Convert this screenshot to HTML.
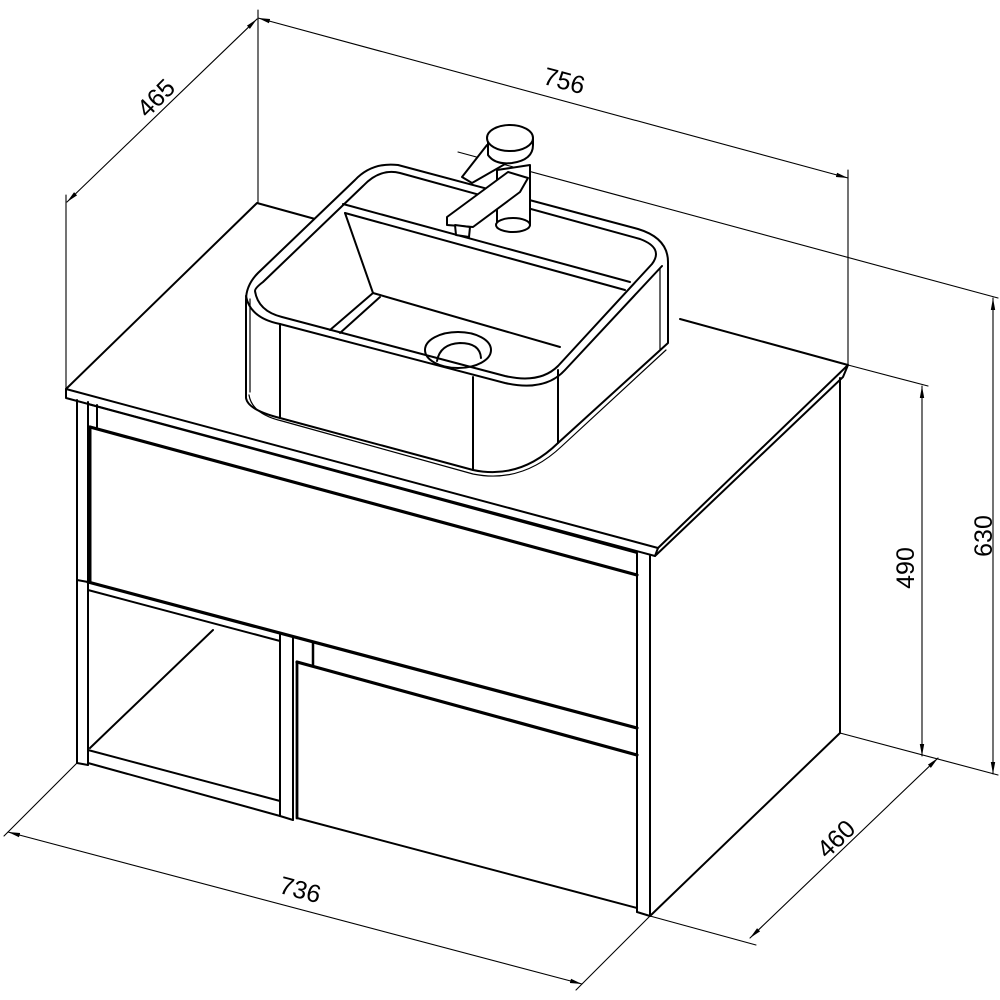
<!DOCTYPE html>
<html><head><meta charset="utf-8"><style>
html,body{margin:0;padding:0;background:#fff;}
svg{display:block;}
text{font-family:"Liberation Sans",Arial,sans-serif;font-size:25px;fill:#000;}
</style></head><body>
<svg width="1000" height="1000" viewBox="0 0 1000 1000" xmlns="http://www.w3.org/2000/svg">
<defs>
<marker id="a" viewBox="0 0 12 6" refX="12" refY="3" markerWidth="12" markerHeight="6" orient="auto-start-reverse" markerUnits="userSpaceOnUse">
<path d="M0,0.8 L12,3 L0,5.2 Z" fill="#000"/></marker>
</defs>
<g fill="none" stroke="#000" stroke-linejoin="round" stroke-linecap="round">
<!-- dimension / extension lines -->
<g stroke-width="1.1">
<line x1="258" y1="10" x2="258" y2="203"/>
<line x1="848" y1="170" x2="848" y2="365"/>
<line x1="66" y1="195" x2="66" y2="389"/>
<line x1="258" y1="18" x2="848" y2="178" marker-start="url(#a)" marker-end="url(#a)"/>
<line x1="67" y1="202" x2="257" y2="19" marker-start="url(#a)" marker-end="url(#a)"/>
<line x1="458" y1="152" x2="998" y2="298"/>
<line x1="848" y1="365" x2="928" y2="386"/>
<line x1="840" y1="733" x2="998" y2="775"/>
<line x1="922" y1="386" x2="922" y2="756" marker-start="url(#a)" marker-end="url(#a)"/>
<line x1="993" y1="298" x2="993" y2="774" marker-start="url(#a)" marker-end="url(#a)"/>
<line x1="650" y1="916" x2="756" y2="945"/>
<line x1="750" y1="938" x2="938" y2="758" marker-start="url(#a)" marker-end="url(#a)"/>
<line x1="77" y1="763" x2="4" y2="836"/>
<line x1="650" y1="916" x2="576" y2="990"/>
<line x1="8" y1="832" x2="582" y2="984" marker-start="url(#a)" marker-end="url(#a)"/>
</g>
<!-- slab -->
<g stroke-width="2">
<path d="M66,389 L257,203 L355,230"/>
<path d="M66,389 L658,548 L848,365 L680,319"/>
<path d="M66,389 L66,398 L655,556 L658,548"/>
<path d="M655,556 L843,377 L848,365"/>
<!-- side panel -->
<line x1="840" y1="378" x2="840" y2="733"/>
<line x1="650" y1="916" x2="840" y2="733"/>
<!-- left post -->
<line x1="77" y1="400" x2="77" y2="763"/>
<line x1="88" y1="402" x2="88" y2="765"/>
<line x1="77" y1="763" x2="88" y2="765"/>
<line x1="97" y1="405" x2="97" y2="427"/>
<line x1="88" y1="404" x2="637" y2="553"/>
<!-- right post -->
<line x1="637" y1="553" x2="637" y2="912"/>
<line x1="650" y1="556" x2="650" y2="916"/>
<line x1="637" y1="912" x2="650" y2="916"/>
<!-- top drawer -->
<line x1="90" y1="427" x2="637" y2="575" stroke-width="3.2"/>
<line x1="90" y1="427" x2="90" y2="582" stroke-width="3"/>
<line x1="88" y1="582" x2="637" y2="728" stroke-width="3.2"/>
<line x1="77" y1="580" x2="88" y2="582"/>
<!-- shelf -->
<line x1="88" y1="590" x2="280" y2="641"/>
<line x1="88" y1="750" x2="280" y2="801"/>
<line x1="88" y1="763" x2="280" y2="816"/>
<line x1="90" y1="748" x2="213" y2="630"/>
<!-- middle post -->
<line x1="280" y1="635" x2="280" y2="816"/>
<line x1="293" y1="638" x2="293" y2="820"/>
<line x1="297" y1="662" x2="297" y2="818" stroke-width="2.8"/>
<line x1="280" y1="816" x2="293" y2="820"/>
<line x1="313" y1="643" x2="313" y2="665" stroke-width="2.5"/>
<line x1="297" y1="662" x2="637" y2="755" stroke-width="3.2"/>
<line x1="297" y1="818" x2="637" y2="908"/>
</g>
<!-- basin -->
<g stroke-width="2" fill="#fff">
<path d="M246,398 L246,300 Q246,285 258,273 L355,180 Q372,162 398,165 L638,229 Q668,238 668,262 L668,343 L558,443 Q520,480 473,470 L280,418 Q248,410 246,398 Z"/>
</g>
<g stroke-width="2">
<path d="M246,296 Q250,318 280,324 L505,383 Q545,392 565,370 L662,266"/>
<path d="M255,291 Q258,311 282,317 L505,376 Q540,384 558,366 L652,264 Q664,248 640,239 L400,173 Q380,168 363,186 L263,282 Q255,288 255,291 Z"/>
<path d="M250,299 L250,392" stroke-width="1.2"/>
<line x1="280" y1="324" x2="280" y2="418"/>
<line x1="473" y1="377" x2="473" y2="470"/>
<line x1="558" y1="370" x2="558" y2="443"/>
<line x1="660" y1="268" x2="660" y2="350" stroke-width="1.2"/>
<path d="M249,395 Q252,414 282,421 L473,474 Q522,484 562,446 L666,350" stroke-width="1.2"/>
<!-- interior -->
<line x1="343" y1="204" x2="630" y2="282"/>
<line x1="345" y1="213" x2="625" y2="290"/>
<line x1="345" y1="213" x2="373" y2="293"/>
<line x1="373" y1="293" x2="560" y2="347"/>
<line x1="373" y1="293" x2="330" y2="330"/>
<line x1="380" y1="297" x2="340" y2="333"/>
<ellipse cx="458" cy="350" rx="33" ry="18"/>
<path d="M437,361 Q440,344 460,343 Q480,343 481,358"/>
</g>
<!-- faucet -->
<g stroke-width="2" fill="#fff">
<path d="M497,225 L530,225 L530,165 L497,170 Z"/>
<ellipse cx="513" cy="225" rx="17" ry="7"/>
<path d="M447,217 L508,172 L528,178 L520,192 L473,227 L447,225 Z"/>
<path d="M455,225 L470,227 L469,237 L456,235 Z"/>
<path d="M487,145 L462,177 L472,183 L512,160 Z"/>
<path d="M488,140 L488,155 Q495,165 512,163 Q533,160 533,145 L533,138 Z"/>
<ellipse cx="510" cy="138" rx="23" ry="13"/>
</g>
</g>
<!-- labels -->
<text transform="translate(562,89) rotate(15)" text-anchor="middle">756</text>
<text transform="translate(162,104) rotate(-45)" text-anchor="middle">465</text>
<text transform="translate(992,536) rotate(-90)" text-anchor="middle">630</text>
<text transform="translate(914,568) rotate(-90)" text-anchor="middle">490</text>
<text transform="translate(842,845) rotate(-44)" text-anchor="middle">460</text>
<text transform="translate(298,898) rotate(15)" text-anchor="middle">736</text>
</svg>
</body></html>
